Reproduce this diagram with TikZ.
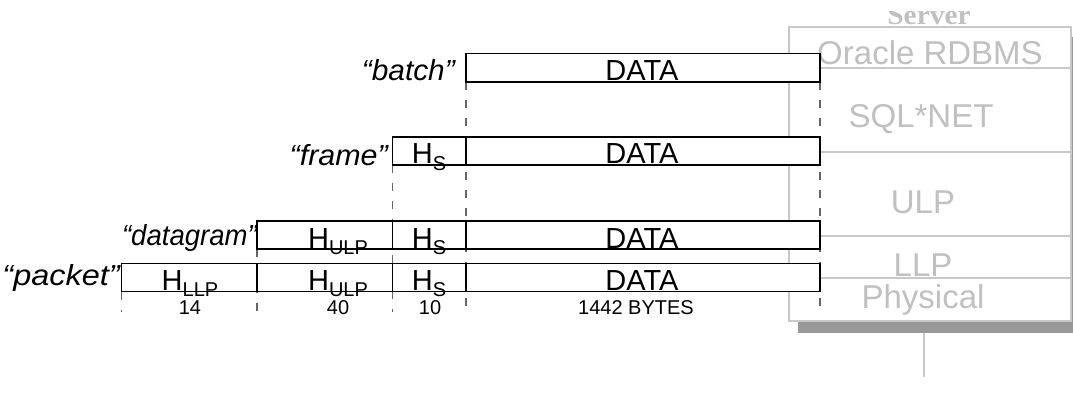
\documentclass[tikz,border=0pt]{standalone}
\usepackage{fontspec}
\setmainfont{Liberation Sans}
\newfontfamily\srvfont{Liberation Serif}
\definecolor{lg}{HTML}{C8C8C8}
\definecolor{lt}{HTML}{C0C0C0}
\definecolor{shd}{HTML}{999999}
\definecolor{dg}{HTML}{666666}
\pgfdeclarelayer{back}
\pgfdeclarelayer{mid}
\pgfsetlayers{back,mid,main}
\newcommand{\Hsub}[1]{H\raisebox{-6.5pt}{\fontsize{20}{20}\selectfont #1}}
\begin{document}
\begin{tikzpicture}[x=1pt,y=-1pt,
 pbox/.style={draw=black, line width=1.4pt, fill=white, inner sep=0pt, outer sep=0pt, anchor=north west},
 btxt/.style={font=\fontsize{29}{30}\selectfont, anchor=base, inner sep=0pt},
 lab/.style={font=\fontsize{29}{30}\selectfont\itshape, anchor=base east, inner sep=0pt},
 num/.style={font=\fontsize{20}{22}\selectfont, anchor=base, inner sep=0pt},
 lay/.style={draw=lg, line width=1.5pt, fill=white, inner sep=0pt, outer sep=0pt, anchor=north west, minimum width=282pt},
 laytxt/.style={font=\fontsize{33}{35}\selectfont, text=lt, anchor=base, inner sep=0pt},
 guide/.style={draw=dg, line width=1.1pt, dash pattern=on 8pt off 10pt}
]
\useasboundingbox (0,0) rectangle (1073,414);

% ---- packet boxes (main layer)
\node[pbox, minimum width=354pt, minimum height=28.5pt] (bD) at (466,53.5) {};
\node[pbox, minimum width=73.5pt, minimum height=28pt] (fH) at (392.5,137) {};
\node[pbox, minimum width=354pt, minimum height=28pt] (fD) at (466,137) {};
\node[pbox, minimum width=135.5pt, minimum height=28pt] (dU) at (257,221) {};
\node[pbox, minimum width=73.5pt, minimum height=28pt] (dH) at (392.5,221) {};
\node[pbox, minimum width=354pt, minimum height=28pt] (dD) at (466,221) {};
\node[pbox, minimum width=135.5pt, minimum height=28.2pt] (pL) at (121.5,263.5) {};
\node[pbox, minimum width=135.5pt, minimum height=28.2pt] (pU) at (257,263.5) {};
\node[pbox, minimum width=73.5pt, minimum height=28.2pt] (pH) at (392.5,263.5) {};
\node[pbox, minimum width=354pt, minimum height=28.2pt] (pD) at (466,263.5) {};

% box texts
\node[btxt] (tbD) at (642,81) {DATA};
\node[btxt] (tfH) at (429,164) {\Hsub{S}};
\node[btxt] (tfD) at (642,164) {DATA};
\node[btxt] (tdU) at (338,248) {\Hsub{ULP}};
\node[btxt] (tdH) at (429,248) {\Hsub{S}};
\node[btxt] (tdD) at (642,248) {DATA};
\node[btxt] (tpL) at (190,290) {\Hsub{LLP}};
\node[btxt] (tpU) at (338,290) {\Hsub{ULP}};
\node[btxt] (tpH) at (429,290) {\Hsub{S}};
\node[btxt] (tpD) at (642,290) {DATA};

% labels
\node[lab] (lbatch) at (455,81) {\scalebox{1.03}[1]{“batch”}};
\node[lab] (lframe) at (388,166) {\scalebox{1.05}[1]{“frame”}};
\node[lab] (ldgram) at (257,245) {\scalebox{0.95}[1]{“datagram”}};
\node[lab] (lpack) at (120,285) {\scalebox{1.12}[1]{“packet”}};

% sizes
\node[num] (n14) at (190,314.5) {14};
\node[num] (n40) at (338,314.5) {40};
\node[num] (n10) at (430,314.5) {10};
\node[num] (n1442) at (636,314.5) {1442 BYTES};

% ---- dashed guides (middle layer)
\begin{pgfonlayer}{mid}
\coordinate (g1) at (121.5,312);
\coordinate (g2) at (257,312);
\coordinate (g3) at (392.5,312);
\coordinate (g4) at (466,312);
\coordinate (g5) at (820,312);
\draw[guide] (pL.south west) -- (g1);
\draw[guide] (dU.south west) -- (g2);
\draw[guide] (fH.south west) -- (g3);
\draw[guide] (bD.south west) -- (g4);
\draw[guide] (bD.south east) -- (g5);
\end{pgfonlayer}

% ---- server stack (back layer)
\begin{pgfonlayer}{back}
\node[fill=shd, inner sep=0pt, outer sep=0pt, anchor=north west, minimum width=275pt, minimum height=296pt] (shadow) at (798,37) {};
\node[lay, minimum height=41pt] (L1) at (789,27) {};
\node[lay, minimum height=84pt] (L2) at (789,68) {};
\node[lay, minimum height=84pt] (L3) at (789,152) {};
\node[lay, minimum height=42pt] (L4) at (789,236) {};
\node[lay, minimum height=43pt] (L5) at (789,278) {};
\node[laytxt] (t1) at (930,65) {Oracle RDBMS};
\node[laytxt] (t2) at (921,128) {SQL*NET};
\node[laytxt] (t3) at (923,213) {ULP};
\node[laytxt] (t4) at (923,276) {LLP};
\node[laytxt] (t5) at (923,308) {Physical};
\begin{scope}
\clip (850,11.5) rectangle (1010,40);
\node[font=\srvfont\bfseries\fontsize{28}{30}\selectfont, text=lt, anchor=base, inner sep=0pt] (srvlab) at (929,25) {\scalebox{1.05}[1]{Server}};
\end{scope}
\coordinate (vt) at (924,333);
\coordinate (vb) at (924,377);
\draw[draw=lg, line width=1.5pt] (vt) -- (vb);
\end{pgfonlayer}
\end{tikzpicture}
\end{document}
